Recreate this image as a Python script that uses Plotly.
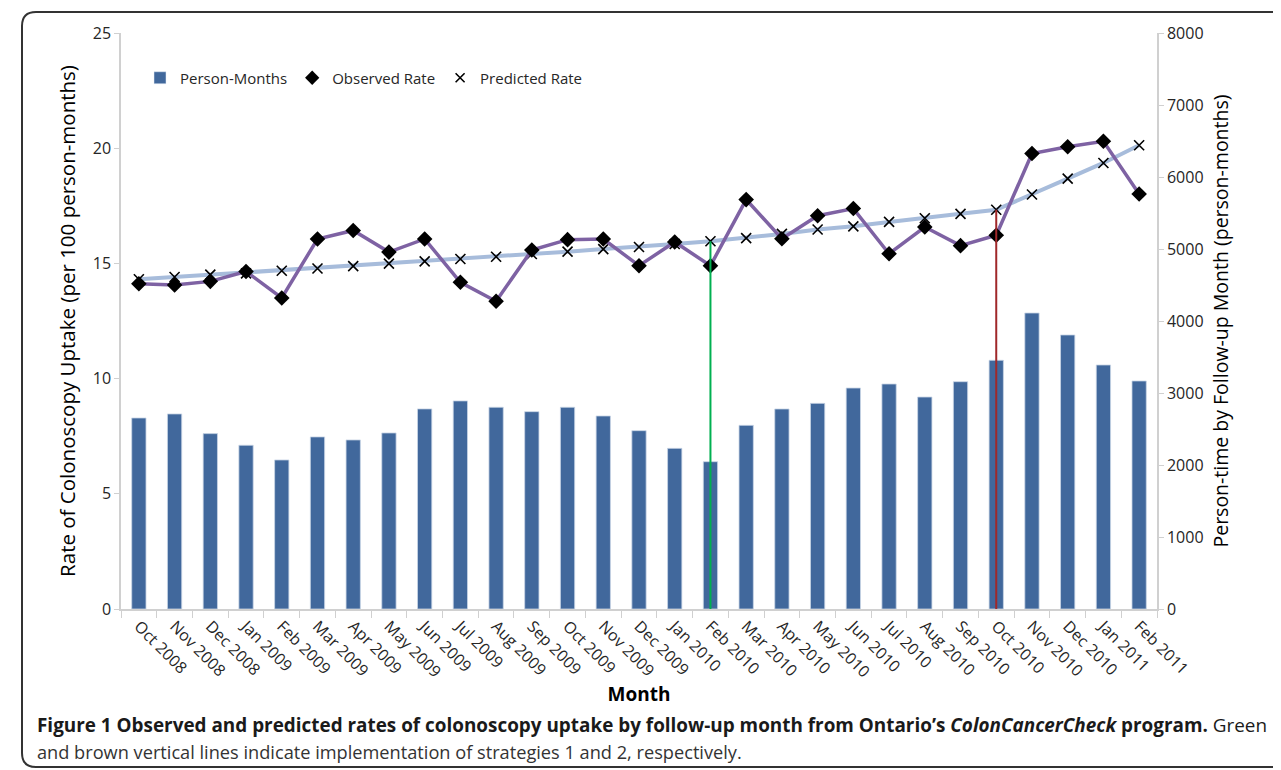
import plotly.graph_objects as go

months = ["Oct 2008", "Nov 2008", "Dec 2008", "Jan 2009", "Feb 2009", "Mar 2009", "Apr 2009",
          "May 2009", "Jun 2009", "Jul 2009", "Aug 2009", "Sep 2009", "Oct 2009", "Nov 2009",
          "Dec 2009", "Jan 2010", "Feb 2010", "Mar 2010", "Apr 2010", "May 2010", "Jun 2010",
          "Jul 2010", "Aug 2010", "Sep 2010", "Oct 2010", "Nov 2010", "Dec 2010", "Jan 2011",
          "Feb 2011"]

person_months = [2653, 2709, 2436, 2274, 2070, 2390, 2348, 2445, 2779, 2890, 2802, 2741,
                 2802, 2681, 2477, 2231, 2046, 2551, 2778, 2856, 3069, 3125, 2944, 3157,
                 3454, 4111, 3806, 3389, 3167]

observed_rate = [14.12, 14.06, 14.22, 14.65, 13.50, 16.06, 16.43, 15.49, 16.06, 14.18, 13.36,
                 15.58, 16.03, 16.06, 14.90, 15.93, 14.90, 17.77, 16.07, 17.07, 17.38, 15.42,
                 16.58, 15.77, 16.22, 19.77, 20.06, 20.30, 18.01]

predicted_rate = [14.31, 14.41, 14.51, 14.57, 14.68, 14.78, 14.88, 14.99, 15.09, 15.19, 15.29,
                  15.41, 15.51, 15.62, 15.71, 15.84, 15.96, 16.10, 16.28, 16.47, 16.61, 16.80,
                  16.96, 17.15, 17.33, 17.99, 18.68, 19.36, 20.13]

strategy_months = ["Feb 2010", "Oct 2010"]
strategy_colors = ["#00B050", "#A0282A"]

FONT = "Open Sans"
TXT = "#262626"
OFF = 8  # page body margin

fig = go.Figure()

fig.add_trace(go.Bar(x=months, y=person_months, yaxis="y", marker=dict(color="#41689C",
                     line=dict(color="#C9D5E6", width=0.8)), showlegend=False, name="Person-Months"))

fig.add_trace(go.Scatter(x=months, y=predicted_rate, yaxis="y2", mode="lines+markers",
                         line=dict(color="#A7BCDB", width=4),
                         marker=dict(symbol="x-thin", size=10, color="black",
                                     line=dict(color="black", width=1.6)),
                         showlegend=False, name="Predicted Rate"))

fig.add_trace(go.Scatter(x=months, y=observed_rate, yaxis="y2", mode="lines+markers",
                         line=dict(color="#7E62A3", width=3.5),
                         marker=dict(symbol="diamond", size=12, color="black"),
                         showlegend=False, name="Observed Rate"))

for m, c in zip(strategy_months, strategy_colors):
    idx = months.index(m)
    fig.add_trace(go.Scatter(x=[m, m], y=[-0.05, predicted_rate[idx]], yaxis="y2", mode="lines",
                             line=dict(color=c, width=2), showlegend=False, hoverinfo="skip"))

# legend entries (symbols only, as in the reference)
fig.add_trace(go.Bar(x=[None], y=[None], yaxis="y", marker=dict(color="#41689C"), name="Person-Months"))
fig.add_trace(go.Scatter(x=[None], y=[None], yaxis="y2", mode="markers", name="Observed Rate",
                         marker=dict(symbol="diamond", size=11, color="black")))
fig.add_trace(go.Scatter(x=[None], y=[None], yaxis="y2", mode="markers", name="Predicted Rate",
                         marker=dict(symbol="x-thin", size=9, color="black",
                                     line=dict(color="black", width=1.6))))

# page coordinates of the plot area in the reference
L, R, T, B = 121 - OFF, 1157 - OFF, 33 - OFF, 609 - OFF
W, H = 1281, 770
pw, ph = R - L, B - T


def px(x):
    return (x - OFF - L) / pw


def py(y):
    return (B - (y - OFF)) / ph


fig.update_layout(
    width=W, height=H,
    margin=dict(l=L, r=W - R, t=T, b=H - B, pad=0),
    paper_bgcolor="white", plot_bgcolor="white",
    font=dict(family=FONT, color=TXT, size=16),
    bargap=0.6,
    showlegend=True,
    legend=dict(orientation="h", x=px(140), y=py(78), xanchor="left", yanchor="middle",
                font=dict(size=15, color=TXT), bgcolor="rgba(0,0,0,0)", itemwidth=30,
                traceorder="normal"),
    xaxis=dict(type="category", tickangle=45, showline=True, linecolor="#D0D0D0", linewidth=1.5,
               ticks="outside", tickson="boundaries", ticklen=7, tickcolor="#D0D0D0",
               tickfont=dict(size=16, color=TXT), showgrid=False,
               title=dict(text="<b>Month</b>", font=dict(size=19, color="black"), standoff=6),
               range=[-0.5, len(months) - 0.5]),
    yaxis=dict(side="right", range=[0, 8000], dtick=1000, showgrid=False, zeroline=False,
               showline=True, linecolor="#D0D0D0", linewidth=1.5, ticks="outside", ticklen=5,
               tickcolor="#D0D0D0", tickfont=dict(size=16, color=TXT),
               title=dict(text="Person-time by Follow-up Month (person-months)",
                          font=dict(size=19.5, color="black"), standoff=12)),
    yaxis2=dict(side="left", overlaying="y", range=[0, 25], dtick=5, showgrid=False,
                zeroline=False, showline=True, linecolor="#D0D0D0", linewidth=1.5,
                ticks="outside", ticklen=5, tickcolor="#D0D0D0", tickfont=dict(size=16, color=TXT),
                title=dict(text="Rate of Colonoscopy Uptake (per 100 person-months)",
                           font=dict(size=20.5, color="black"), standoff=12)),
)

# rounded frame around figure + caption
x0, x1 = px(22), px(1320)
y0, y1 = py(767), py(12)
rx, ry = 14 / pw, 14 / ph
path = (f"M {x0 + rx},{y1} L {x1},{y1} L {x1},{y0} L {x0 + rx},{y0} "
        f"Q {x0},{y0} {x0},{y0 + ry} L {x0},{y1 - ry} Q {x0},{y1} {x0 + rx},{y1} Z")
fig.add_shape(type="path", path=path, xref="paper", yref="paper",
              line=dict(color="#333333", width=2), fillcolor="rgba(0,0,0,0)", layer="below")

fig.add_annotation(xref="paper", yref="paper", x=px(35), y=py(725), xanchor="left",
                   yanchor="middle", showarrow=False, align="left",
                   text="<b>Figure 1 Observed and predicted rates of colonoscopy uptake by follow-up month "
                        "from Ontario’s <i>ColonCancerCheck</i> program.</b> Green",
                   font=dict(size=18.9, color="#1a1a1a", family=FONT))
fig.add_annotation(xref="paper", yref="paper", x=px(35), y=py(752), xanchor="left",
                   yanchor="middle", showarrow=False, align="left",
                   text="and brown vertical lines indicate implementation of strategies 1 and 2, respectively.",
                   font=dict(size=18.2, color="#333333", family=FONT))

fig.write_html("out.html")
